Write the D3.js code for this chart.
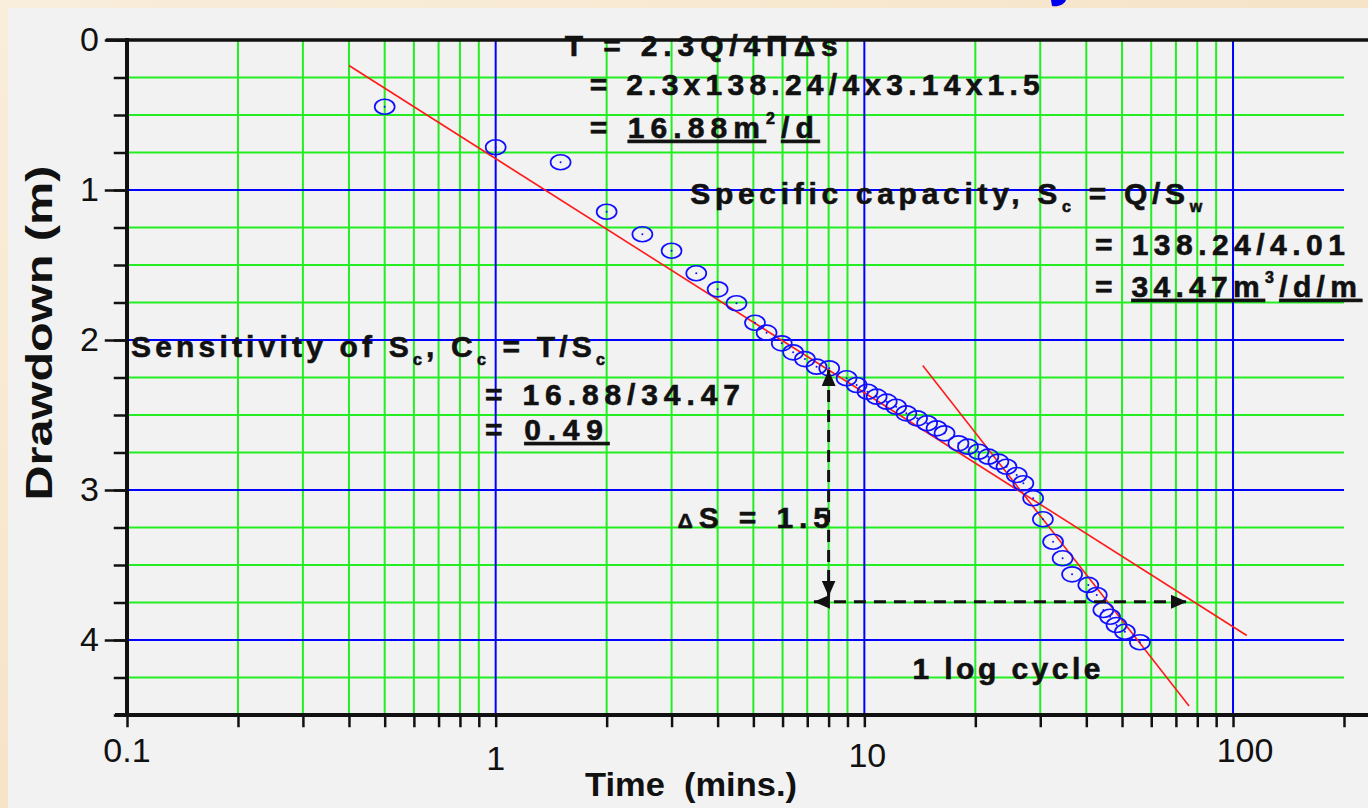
<!DOCTYPE html>
<html>
<head>
<meta charset="utf-8">
<script src="https://cdn.jsdelivr.net/npm/d3@7"></script>
<style>
  html, body { margin: 0; padding: 0; }
  body { width: 1368px; height: 808px; overflow: hidden; }
  svg { display: block; }
</style>
</head>
<body>
<script>
const width = 1368;
const height = 808;

// pumping test readings: time since pumping started (mins.) and drawdown (m)
const times = [
  0.5, 1, 1.5, 2, 2.5, 3, 3.5, 4, 4.5, 5.05, 5.43, 5.97, 6.41, 6.9, 7.42, 8.03,
  8.95, 9.53, 10.2, 10.8, 11.5, 12.2, 13, 13.9, 14.8, 15.7, 16.5, 18, 19.1,
  20.4, 21.7, 23.1, 24.3, 25.9, 27, 28.7, 30.5, 32.5, 34.5, 36.6, 40.5, 42.7,
  44.5, 46.4, 48.3, 50.9, 55.9,
];
const drawdowns = [
  0.445, 0.715, 0.815, 1.145, 1.295, 1.405, 1.555, 1.662, 1.755, 1.885, 1.951,
  2.022, 2.082, 2.127, 2.178, 2.189, 2.255, 2.3, 2.345, 2.378, 2.411, 2.445,
  2.489, 2.522, 2.555, 2.589, 2.622, 2.689, 2.711, 2.745, 2.778, 2.811, 2.845,
  2.9, 2.955, 3.055, 3.195, 3.345, 3.455, 3.562, 3.633, 3.7, 3.8, 3.845, 3.9,
  3.945, 4.015,
];

// straight lines fitted by eye, [time, drawdown] end points
const earlyFit = [[0.4, 0.17], [109, 3.97]];
const lateFit = [[14.4, 2.17], [76, 4.44]];

// the delta s / one log cycle construction
const deltaS = [[8, 2.2], [8, 3.71]];
const logCycle = [[7.3, 3.745], [75, 3.745]];

const xTickLabels = [0.1, 1, 10, 100];
const yTickLabels = [0, 1, 2, 3, 4];
const xTitle = "Time\u00a0\u00a0(mins.)";
const yTitle = "Drawdown (m)";

// annotation lines: [text, kind] pieces, kind is "", "sub", "sup", "u" or "small"
const noteLines = [
  [["T = 2.3Q/4ΠΔs", ""]],
  [["= 2.3x138.24/4x3.14x1.5", ""]],
  [["= ", ""], ["16.88m", "u"], ["2", "sup"], ["/d", "u"]],
  [["Specific capacity, S", ""], ["c", "sub"], [" = Q/S", ""], ["w", "sub"]],
  [["= 138.24/4.01", ""]],
  [["= ", ""], ["34.47m", "u"], ["3", "sup"], ["/d/m", "u"]],
  [["Sensitivity of S", ""], ["c", "sub"], [", C", ""], ["c", "sub"], [" = T/S", ""], ["c", "sub"]],
  [["= 16.88/34.47", ""]],
  [["= ", ""], ["0.49", "u"]],
  [["Δ", "small"], ["S = 1.5", ""]],
  [["1 log cycle", ""]],
];

const x = d3.scaleLog().domain([0.1, 200]).range([127, 1344]);
const y = d3.scaleLinear().domain([0, 4.5]).range([40, 715]);

const svg = d3
  .select("body")
  .append("svg")
  .attr("width", width)
  .attr("height", height)
  .attr("font-family", "Liberation Sans, Arial, sans-serif");

const defs = svg.append("defs");
const bg = defs
  .append("linearGradient")
  .attr("id", "bg")
  .attr("x1", 0)
  .attr("y1", 0)
  .attr("x2", 1)
  .attr("y2", 1);
bg.append("stop").attr("offset", 0).attr("stop-color", "#f9eedc");
bg.append("stop").attr("offset", 0.5).attr("stop-color", "#f6e4c8");
bg.append("stop").attr("offset", 1).attr("stop-color", "#f8ead4");

defs
  .append("marker")
  .attr("id", "head")
  .attr("viewBox", "0 -7 16 14")
  .attr("refX", 16)
  .attr("refY", 0)
  .attr("markerWidth", 16)
  .attr("markerHeight", 14)
  .attr("markerUnits", "userSpaceOnUse")
  .attr("orient", "auto-start-reverse")
  .append("path")
  .attr("d", "M0,-7L16,0L0,7Z")
  .attr("fill", "#111");

svg.append("rect").attr("width", width).attr("height", height).attr("fill", "url(#bg)");
svg
  .append("rect")
  .attr("x", 8)
  .attr("y", 8)
  .attr("width", width - 8)
  .attr("height", height - 8)
  .attr("fill", "#f2f2f2");

// tail of a glyph from a title cut off above the panel
svg
  .append("path")
  .attr("d", "M1051,0 L1066,0 C1064,5 1058,7 1052,6 Z")
  .attr("fill", "#0000ee");

// grid
const decades = [0.1, 1, 10, 100];
const xGrid = x.ticks().filter((d) => d < 150);
const yGrid = d3.range(0.25, 4.5, 0.25);
const isMajorX = (d) => decades.some((v) => Math.abs(d / v - 1) < 1e-6);
const isMajorY = (d) => Math.abs(d - Math.round(d)) < 1e-6;

const grid = svg.append("g").attr("stroke-width", 2);
grid
  .selectAll(".gy")
  .data(yGrid.filter((d) => !isMajorY(d)))
  .join("line")
  .attr("x1", x(0.1))
  .attr("x2", x(200))
  .attr("y1", y)
  .attr("y2", y)
  .attr("stroke", "#22ee22");
grid
  .selectAll(".gx")
  .data(xGrid.filter((d) => !isMajorX(d)))
  .join("line")
  .attr("x1", x)
  .attr("x2", x)
  .attr("y1", y(0))
  .attr("y2", y(4.5))
  .attr("stroke", "#22ee22");
grid
  .selectAll(".by")
  .data(yGrid.filter(isMajorY))
  .join("line")
  .attr("x1", x(0.1))
  .attr("x2", x(200))
  .attr("y1", y)
  .attr("y2", y)
  .attr("stroke", "#0000ff");
grid
  .selectAll(".bx")
  .data(decades.slice(1))
  .join("line")
  .attr("x1", x)
  .attr("x2", x)
  .attr("y1", y(0))
  .attr("y2", y(4.5))
  .attr("stroke", "#0000ff");

// axes
const axisLeftMinor = d3
  .axisLeft(y)
  .tickValues(d3.range(0, 4.51, 0.25))
  .tickSize(12)
  .tickFormat("");
const axisLeftMajor = d3
  .axisLeft(y)
  .tickValues(yTickLabels)
  .tickSize(21)
  .tickPadding(7)
  .tickFormat(d3.format("d"));
const axisBottom = d3
  .axisBottom(x)
  .tickValues(x.ticks())
  .tickSize(11)
  .tickFormat("");

const axes = svg.append("g").attr("stroke-linecap", "square");
axes
  .append("g")
  .attr("transform", `translate(${x(0.1)},0)`)
  .call(axisLeftMinor)
  .call((g) => g.select(".domain").remove())
  .call((g) => g.selectAll("line").attr("stroke", "#111").attr("stroke-width", 2.5));
axes
  .append("g")
  .attr("transform", `translate(${x(0.1)},0)`)
  .call(axisLeftMajor)
  .call((g) => g.select(".domain").remove())
  .call((g) => g.selectAll("line").attr("stroke", "#111").attr("stroke-width", 2.5))
  .call((g) =>
    g
      .selectAll("text")
      .attr("font-size", 34)
      .attr("font-family", "Liberation Sans, Arial, sans-serif")
      .attr("fill", "#111")
  );
axes
  .append("g")
  .attr("transform", `translate(0,${y(4.5)})`)
  .call(axisBottom)
  .call((g) => g.select(".domain").remove())
  .call((g) => g.selectAll("line").attr("stroke", "#111").attr("stroke-width", 2.5));

// x labels sit a little staggered in the original
const xLabelShift = [[0, 0], [0, 8], [3, 5], [12, 0]];
svg
  .append("g")
  .attr("font-size", 34)
  .attr("fill", "#111")
  .attr("text-anchor", "middle")
  .selectAll("text")
  .data(xTickLabels)
  .join("text")
  .attr("x", (d, i) => x(d) + xLabelShift[i][0])
  .attr("y", (d, i) => 762 + xLabelShift[i][1])
  .text((d) => d);

// frame: left, top and bottom
const frame = svg.append("g").attr("stroke", "#111").attr("fill", "none");
frame
  .append("line")
  .attr("x1", x(0.1))
  .attr("x2", x(0.1))
  .attr("y1", y(0) - 2)
  .attr("y2", y(4.5) + 2)
  .attr("stroke-width", 4);
frame
  .append("line")
  .attr("x1", x(0.1) - 21)
  .attr("x2", width)
  .attr("y1", y(0))
  .attr("y2", y(0))
  .attr("stroke-width", 3.5);
frame
  .append("line")
  .attr("x1", x(0.1) - 12)
  .attr("x2", width)
  .attr("y1", y(4.5))
  .attr("y2", y(4.5))
  .attr("stroke-width", 4);

// axis titles
svg
  .append("text")
  .attr("x", 585)
  .attr("y", 796)
  .attr("font-size", 34)
  .attr("font-weight", "bold")
  .attr("fill", "#111")
  .attr("textLength", 212)
  .attr("lengthAdjust", "spacingAndGlyphs")
  .text(xTitle);
svg
  .append("text")
  .attr("transform", "translate(52,333) rotate(-90)")
  .attr("text-anchor", "middle")
  .attr("font-size", 36)
  .attr("font-weight", "bold")
  .attr("fill", "#111")
  .attr("textLength", 335)
  .attr("lengthAdjust", "spacingAndGlyphs")
  .text(yTitle);

// fitted lines
const line = d3
  .line()
  .x((d) => x(d[0]))
  .y((d) => y(d[1]));
svg
  .append("g")
  .attr("fill", "none")
  .attr("stroke", "#ff1a1a")
  .attr("stroke-width", 1.6)
  .selectAll("path")
  .data([earlyFit, lateFit])
  .join("path")
  .attr("d", line);

// observations
const points = times.map((t, i) => [t, drawdowns[i]]);
const obs = svg
  .append("g")
  .selectAll("g")
  .data(points)
  .join("g")
  .attr("transform", (d) => `translate(${x(d[0])},${y(d[1])})`);
obs
  .append("ellipse")
  .attr("rx", 10)
  .attr("ry", 7.5)
  .attr("fill", "none")
  .attr("stroke", "#1010ff")
  .attr("stroke-width", 1.7);
obs.append("circle").attr("r", 1).attr("fill", "#1010ff");

// annotation layout: start point in [time, drawdown] and width in px
const noteLayout = [
  [[1.54, 0.107], 273],
  [[1.8, 0.367], 450],
  [[1.8, 0.653], 224],
  [[3.37, 1.093], 512],
  [[42.2, 1.433], 250],
  [[42.2, 1.713], 262],
  [[0.1025, 2.113], 474],
  [[0.935, 2.433], 255],
  [[0.935, 2.667], 118],
  [[3.12, 3.253], 152],
  [[13.5, 4.26], 188],
];
const shift = { sub: 8, sup: -14 };

const notes = svg
  .append("g")
  .attr("font-size", 30)
  .attr("font-weight", "bold")
  .attr("fill", "#111")
  .attr("stroke", "#111")
  .attr("stroke-width", 0.6)
  .selectAll("text")
  .data(noteLines)
  .join("text")
  .attr("x", (d, i) => x(noteLayout[i][0][0]))
  .attr("y", (d, i) => y(noteLayout[i][0][1]));

notes.each(function (parts) {
  const t = d3.select(this);
  let prev = 0;
  for (const [txt, kind] of parts) {
    const s = shift[kind] || 0;
    const span = t.append("tspan").attr("dy", s - prev).text(txt);
    prev = s;
    if (kind === "sub" || kind === "sup") span.attr("font-size", 16);
    if (kind === "small") span.attr("font-size", 21);
    if (kind === "u") span.attr("text-decoration", "underline");
  }
});

notes.each(function (d, i) {
  const n = this.getNumberOfChars();
  const len = this.getComputedTextLength();
  if (n > 1) d3.select(this).attr("letter-spacing", (noteLayout[i][1] - len) / (n - 1));
});

// delta s and log cycle arrows
svg
  .append("g")
  .attr("fill", "none")
  .attr("stroke", "#111")
  .attr("stroke-width", 3)
  .attr("stroke-dasharray", "12 8")
  .selectAll("path")
  .data([deltaS, logCycle])
  .join("path")
  .attr("d", line)
  .attr("marker-start", "url(#head)")
  .attr("marker-end", "url(#head)");
</script>
</body>
</html>
